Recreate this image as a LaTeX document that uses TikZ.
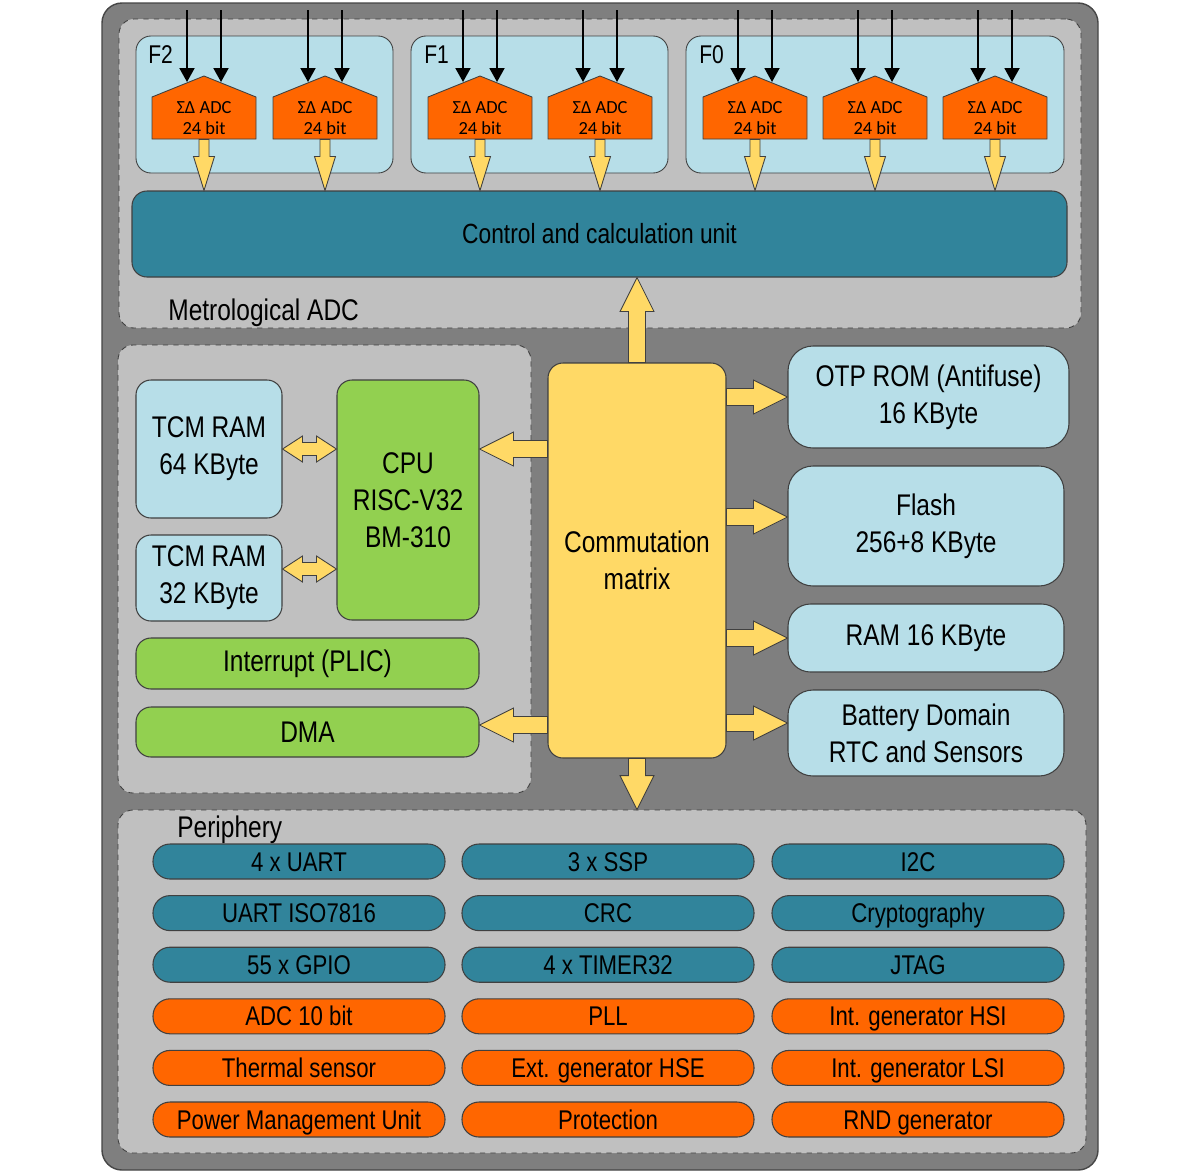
\documentclass[tikz,border=0pt]{standalone}
\usepackage{fontspec}
\setmainfont{Liberation Sans}[FakeStretch=0.82]
\newfontfamily\adcfont{Carlito}
\usepackage{xcolor}
\usetikzlibrary{arrows.meta,calc,positioning,shapes}

\definecolor{outergray}{HTML}{7F7F7F}
\definecolor{panelgray}{HTML}{C0C0C0}
\definecolor{memblue}{HTML}{B7DEE8}
\definecolor{tealblue}{HTML}{31849B}
\definecolor{adcorange}{HTML}{FF6600}
\definecolor{busyellow}{HTML}{FFD966}
\definecolor{cpugreen}{HTML}{92D050}
\definecolor{edgegray}{HTML}{404040}

\newlength\pxu
\setlength\pxu{0.2mm}
\newcommand\fbig{\fontsize{17}{21}\selectfont}
\newcommand\fpill{\fontsize{15.4}{19}\selectfont}
\newcommand\fctrl{\fontsize{15.8}{19}\selectfont}
\newcommand\flab{\fontsize{14.6}{18}\selectfont}
\newcommand\fadc{\adcfont\fontsize{10.5}{12}\selectfont}

\begin{document}
\begin{tikzpicture}[x=0.2mm, y=-0.2mm,
    frame/.style={rectangle, rounded corners=4mm, fill=outergray, draw=gray!55!black, line width=0.8pt},
    panel/.style={rectangle, rounded corners=3mm, fill=panelgray, draw=edgegray, dashed, line width=0.5pt},
    group/.style={rectangle, rounded corners=3mm, fill=memblue, draw=edgegray, line width=0.5pt},
    box/.style={rectangle, rounded corners=3mm, draw=edgegray, line width=0.6pt, align=center, inner sep=0pt, font=\fbig},
    pill/.style={rectangle, rounded corners=3.4mm, draw=edgegray, line width=0.6pt, minimum width=292\pxu, minimum height=35\pxu, inner sep=0pt, text height=11pt, text depth=0pt, font=\fpill},
    lab/.style={anchor=west, inner sep=0pt, text height=12pt, text depth=0pt, font=\fbig},
    adc/.style={rectangle, minimum width=104\pxu, minimum height=42\pxu, inner sep=0pt, align=center, font=\fadc},
    adcbody/.style={fill=adcorange, draw=edgegray, line width=0.5pt},
    inarrow/.style={line width=1.1pt, -{Triangle[length=2.8mm, width=3mm]}},
    fat/.style n args={3}{draw=edgegray, fill=busyellow, line width=0.5pt,
      to path={($(\tikztostart)!#1!90:(\tikztotarget)$)
        -- ($(\tikztotarget)!#3!(\tikztostart)!#1!90:(\tikztotarget)$)
        -- ($(\tikztotarget)!#3!(\tikztostart)!#2!90:(\tikztotarget)$)
        -- (\tikztotarget)
        -- ($(\tikztotarget)!#3!(\tikztostart)!#2!-90:(\tikztotarget)$)
        -- ($(\tikztotarget)!#3!(\tikztostart)!#1!-90:(\tikztotarget)$)
        -- ($(\tikztostart)!#1!-90:(\tikztotarget)$) -- cycle}},
    fatboth/.style n args={3}{draw=edgegray, fill=busyellow, line width=0.5pt,
      to path={(\tikztostart)
        -- ($(\tikztostart)!#3!(\tikztotarget)!#2!90:(\tikztotarget)$)
        -- ($(\tikztostart)!#3!(\tikztotarget)!#1!90:(\tikztotarget)$)
        -- ($(\tikztotarget)!#3!(\tikztostart)!#1!90:(\tikztotarget)$)
        -- ($(\tikztotarget)!#3!(\tikztostart)!#2!90:(\tikztotarget)$)
        -- (\tikztotarget)
        -- ($(\tikztotarget)!#3!(\tikztostart)!#2!-90:(\tikztotarget)$)
        -- ($(\tikztotarget)!#3!(\tikztostart)!#1!-90:(\tikztotarget)$)
        -- ($(\tikztostart)!#3!(\tikztotarget)!#1!-90:(\tikztotarget)$)
        -- ($(\tikztostart)!#3!(\tikztotarget)!#2!-90:(\tikztotarget)$)
        -- cycle}},
    bus/.style={fat={1.7mm}{3.4mm}{6.8mm}}]

    \useasboundingbox (0,0) rectangle (1200,1173);
    \fill[white] (0,0) rectangle (1200,1173);

    % chip and its three areas
    \node[frame, minimum width=996\pxu, minimum height=1167\pxu] (chip) at (600,586.5) {};
    \node[panel, minimum width=962\pxu, minimum height=309\pxu] (metro) at (600,173.5) {};
    \node[panel, minimum width=413\pxu, minimum height=448\pxu] (core) at (324.5,569) {};
    \node[panel, minimum width=968\pxu, minimum height=343\pxu] (peri) at (602,981.5) {};
    \node[lab] (metrolab) at (168,310) {Metrological ADC};
    \node[lab] (perilab) at (177,827) {Periphery};

    % metrological ADC
    \node[group, minimum width=257\pxu, minimum height=137\pxu] (f2) at (264.5,104.5) {};
    \node[group, minimum width=257\pxu, minimum height=137\pxu] (f1) at (539.5,104.5) {};
    \node[group, minimum width=378\pxu, minimum height=137\pxu] (f0) at (875,104.5) {};
    \node[lab, font=\flab] (f2lab) at (148,53) {F2};
    \node[lab, font=\flab] (f1lab) at (424,53) {F1};
    \node[lab, font=\flab] (f0lab) at (699,53) {F0};
    \node[box, fill=tealblue, font=\fctrl, minimum width=935\pxu, minimum height=86\pxu] (ctrl) at (599.5,234) {Control and calculation unit};

    \foreach \n/\x in {1/204,2/325,3/480,4/600,5/755,6/875,7/995}{
        \filldraw[adcbody] (\x-52,139) -- (\x+52,139) -- (\x+52,97) -- (\x,76) -- (\x-52,97) -- cycle;
        \node[adc] (adc\n) at (\x,118) {ΣΔ ADC\\24 bit};
        \coordinate (in\n a) at (\x-17,10);
        \coordinate (in\n b) at (\x+17,10);
        \draw[inarrow] (in\n a) -- ++(0,72);
        \draw[inarrow] (in\n b) -- ++(0,72);
        \draw[fat={1mm}{2.1mm}{6.8mm}] (adc\n.south) to (adc\n.south |- ctrl.north);
    }

    % core
    \node[box, fill=memblue, minimum width=146\pxu, minimum height=138\pxu] (tcm64) at (209,449) {TCM RAM\\64 KByte};
    \node[box, fill=memblue, minimum width=146\pxu, minimum height=86\pxu] (tcm32) at (209,578) {TCM RAM\\32 KByte};
    \node[box, fill=cpugreen, minimum width=142\pxu, minimum height=240\pxu] (cpu) at (408,500) {CPU\\RISC-V32\\BM-310};
    \node[box, fill=cpugreen, minimum width=343\pxu, minimum height=51\pxu] (plic) at (307.5,663.5) {Interrupt (PLIC)};
    \node[box, fill=cpugreen, minimum width=343\pxu, minimum height=50\pxu] (dma) at (307.5,732) {DMA};
    \node[box, fill=busyellow, minimum width=178\pxu, minimum height=395\pxu] (mat) at (637,560.5) {Commutation\\matrix};

    % memories
    \node[box, fill=memblue, rounded corners=5mm, minimum width=281\pxu, minimum height=102\pxu] (otp) at (928.5,397) {OTP ROM (Antifuse)\\16 KByte};
    \node[box, fill=memblue, rounded corners=5mm, minimum width=276\pxu, minimum height=120\pxu] (flash) at (926,526) {Flash\\256+8 KByte};
    \node[box, fill=memblue, rounded corners=4.5mm, minimum width=276\pxu, minimum height=68\pxu] (ram) at (926,638) {RAM 16 KByte};
    \node[box, fill=memblue, rounded corners=5mm, minimum width=276\pxu, minimum height=86\pxu] (batt) at (926,733) {Battery Domain\\RTC and Sensors};

    % buses
    \coordinate (flashin) at ([yshift=1.8mm]flash.west);
    \coordinate (battin) at ([yshift=2mm]batt.west);
    \coordinate (dmain) at ([yshift=1.4mm]dma.east);
    \coordinate (tcm32out) at ([yshift=1.8mm]tcm32.east);
    \draw[bus] (mat.north) to (mat.north |- ctrl.south);
    \draw[bus] (mat.south) to (mat.south |- peri.north);
    \draw[bus] (mat.east |- otp.west) to (otp.west);
    \draw[bus] (mat.east |- flashin) to (flashin);
    \draw[bus] (mat.east |- ram.west) to (ram.west);
    \draw[bus] (mat.east |- battin) to (battin);
    \draw[bus] (mat.west |- tcm64.east) to (cpu.east |- tcm64.east);
    \draw[bus] (mat.west |- dmain) to (dmain);
    \draw[fatboth={1.3mm}{2.6mm}{4mm}] (tcm64.east) to (cpu.west |- tcm64.east);
    \draw[fatboth={1.3mm}{2.6mm}{4mm}] (tcm32out) to (cpu.west |- tcm32out);

    % periphery
    \foreach \r/\ta/\tb/\tc/\clr in {1/4 x UART/3 x SSP/I2C/tealblue,
        2/UART ISO7816/CRC/Cryptography/tealblue,
        3/55 x GPIO/4 x TIMER32/JTAG/tealblue,
        4/ADC 10 bit/PLL/Int. generator HSI/adcorange,
        5/Thermal sensor/Ext. generator HSE/Int. generator LSI/adcorange,
        6/Power Management Unit/Protection/RND generator/adcorange}{
        \node[pill, fill=\clr] (p\r a) at (299,{861.5+51.6*(\r-1)}) {\ta};
        \node[pill, fill=\clr] (p\r b) at (608,{861.5+51.6*(\r-1)}) {\tb};
        \node[pill, fill=\clr] (p\r c) at (918,{861.5+51.6*(\r-1)}) {\tc};
    }
\end{tikzpicture}
\end{document}
